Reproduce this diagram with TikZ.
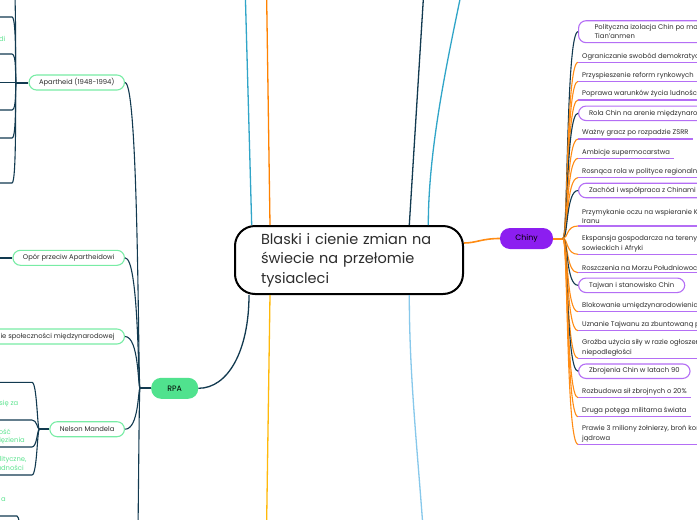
\documentclass[tikz,border=0pt]{standalone}
\usepackage{fontspec}
\setmainfont{Poppins}
\usepackage{tikz}
\usetikzlibrary{positioning,calc}
\definecolor{mmnavy}{RGB}{18,58,80}
\definecolor{mmorange}{RGB}{255,140,20}
\definecolor{chinyviolet}{RGB}{140,30,240}
\definecolor{lilac}{RGB}{180,110,245}
\definecolor{rpagreen}{RGB}{80,226,142}
\definecolor{mintborder}{RGB}{120,236,165}
\definecolor{minttext}{RGB}{95,228,145}
\definecolor{labelgray}{RGB}{45,45,45}
\definecolor{skyteal}{RGB}{48,165,200}
\definecolor{paleblue}{RGB}{135,200,235}
\definecolor{amber}{RGB}{255,185,10}
\definecolor{tangerine}{RGB}{255,130,0}
\newcommand\leaffont{\fontsize{6.8}{9.3}\selectfont}
\tikzset{
  rootbox/.style={draw=black, line width=2pt, rounded corners=20pt, fill=white, minimum width=228pt, minimum height=68pt, text width=176pt, align=left, font=\fontsize{14.5}{19.5}\selectfont, text=labelgray},
  topicpill/.style={rounded corners=10pt, minimum height=21pt, font=\fontsize{7.8}{9}\selectfont, text=black},
  rpachild/.style={draw=mintborder, line width=1.1pt, fill=white, rounded corners=7.5pt, minimum height=15pt, inner xsep=10pt, anchor=east, font=\leaffont, text=labelgray},
  chinybox/.style={draw=lilac, line width=1.1pt, fill=white, rounded corners=7.5pt, minimum height=14.5pt, inner xsep=10.5pt, inner ysep=3.7pt, anchor=west, align=left, font=\leaffont, text=labelgray},
  chinyleaf/.style={anchor=south west, align=left, inner xsep=4pt, inner ysep=2.2pt, font=\leaffont, text=labelgray, append after command={(\tikzlastnode.south west) edge[draw=lilac, line width=1.5pt] (\tikzlastnode.south east)}},
  navylink/.style={draw=mmnavy, line width=1.1pt},
  navystem/.style={draw=mmnavy, line width=2pt},
  orangelink/.style={draw=mmorange, line width=1.1pt},
  mintnote/.style={anchor=east, inner sep=0pt, font=\leaffont, text=minttext}
}
\begin{document}
\begin{tikzpicture}[x=1pt, y=-1pt]
  \useasboundingbox (0,0) rectangle (697,520);
  \clip (0,0) rectangle (697,520);
  \fill[white] (0,0) rectangle (697,520);

  \node[rootbox] (root) at (349,260) {Blaski i cienie zmian na\\świecie na przełomie\\tysiacleci};
  \coordinate (upteal) at (243.8,-60);
  \coordinate (uporange) at (265.8,-60);
  \coordinate (upnavy) at (427,-60);
  \coordinate (upsky) at (466,-30);
  \coordinate (downamber) at (265.5,600);
  \coordinate (downblue) at (427.5,600);
  \draw[draw=skyteal, line width=1.3pt] ([xshift=17.7pt]root.north west) -- (upteal);
  \draw[draw=tangerine, line width=1.3pt] ([xshift=36pt]root.north west) -- (uporange);
  \draw[navylink, line width=1.3pt] ([xshift=175.3pt]root.north west) -- (upnavy);
  \draw[draw=skyteal, line width=1.3pt] ([xshift=194.3pt]root.north west) .. controls +(0,-85) and +(-14,70) .. (upsky);
  \draw[draw=amber, line width=1.3pt] ([xshift=36pt]root.south west) -- (downamber);
  \draw[draw=paleblue, line width=1.3pt] ([xshift=175.3pt]root.south west) .. controls +(0,100) and +(-6,-120) .. (downblue);

  \node[topicpill, fill=chinyviolet, minimum width=53pt] (chiny) at (526.5,238.5) {Chiny};
  \draw[orangelink, line width=1.6pt] ([yshift=17pt]root.east) .. controls +(12,0) and +(-18,0) .. (chiny.west);
  \coordinate (chinyfan) at (563,238.5);
  \draw[orangelink, line width=2pt] (chiny.east) -- (chinyfan);

  \node[chinybox, inner xsep=16pt] (tiananmen) at (578,31.7) {Polityczna izolacja Chin po masakrze na placu\\Tian'anmen};
  \node[chinyleaf] (swobody) at (578,62.3) {Ograniczanie swobód demokratycznych};
  \node[chinyleaf] (reformy) at (578,81.3) {Przyspieszenie reform rynkowych};
  \node[chinyleaf] (warunki) at (578,100) {Poprawa warunków życia ludności};
  \node[chinybox] (arena) at (578,113.3) {Rola Chin na arenie międzynarodowej};
  \node[chinyleaf] (zsrr) at (578,139) {Ważny gracz po rozpadzie ZSRR};
  \node[chinyleaf] (mocarstwo) at (578,158.3) {Ambicje supermocarstwa};
  \node[chinyleaf] (region) at (578,177.7) {Rosnąca rola w polityce regionalnej};
  \node[chinybox] (zachod) at (578,190.5) {Zachód i współpraca z Chinami};
  \node[chinyleaf] (korea) at (578,226) {Przymykanie oczu na wspieranie Korei Płn. i\\Iranu};
  \node[chinyleaf] (ekspansja) at (578,254.3) {Ekspansja gospodarcza na tereny po-\\sowieckich i Afryki};
  \node[chinyleaf] (morze) at (578,272.7) {Roszczenia na Morzu Południowochińskim};
  \node[chinybox] (tajwan) at (578,285.3) {Tajwan i stanowisko Chin};
  \node[chinyleaf] (blokada) at (578,311.7) {Blokowanie umiędzynarodowienia problemu};
  \node[chinyleaf] (uznanie) at (578,330.7) {Uznanie Tajwanu za zbuntowaną prowincję};
  \node[chinyleaf] (grozba) at (578,358.3) {Groźba użycia siły w razie ogłoszenia\\niepodległości};
  \node[chinybox] (zbrojenia) at (578,371.2) {Zbrojenia Chin w latach 90};
  \node[chinyleaf] (rozbudowa) at (578,397.7) {Rozbudowa sił zbrojnych o 20\%};
  \node[chinyleaf] (potega) at (578,416.7) {Druga potęga militarna świata};
  \node[chinyleaf] (armia) at (578,444.3) {Prawie 3 miliony żołnierzy, broń konwencjonalna i\\jądrowa};

  \draw[navylink] (chinyfan) .. controls +(5,0) and +(-12,0) .. (tiananmen.west);
  \draw[orangelink] (chinyfan) .. controls +(5,0) and +(-12,0) .. (swobody.south west);
  \draw[orangelink] (chinyfan) .. controls +(5,0) and +(-12,0) .. (reformy.south west);
  \draw[orangelink] (chinyfan) .. controls +(5,0) and +(-12,0) .. (warunki.south west);
  \draw[navylink] (chinyfan) .. controls +(5,0) and +(-12,0) .. (arena.west);
  \draw[orangelink] (chinyfan) .. controls +(5,0) and +(-12,0) .. (zsrr.south west);
  \draw[orangelink] (chinyfan) .. controls +(5,0) and +(-12,0) .. (mocarstwo.south west);
  \draw[orangelink] (chinyfan) .. controls +(5,0) and +(-12,0) .. (region.south west);
  \draw[navylink] (chinyfan) .. controls +(5,0) and +(-12,0) .. (zachod.west);
  \draw[orangelink] (chinyfan) .. controls +(5,0) and +(-12,0) .. (korea.south west);
  \draw[orangelink] (chinyfan) .. controls +(5,0) and +(-12,0) .. (ekspansja.south west);
  \draw[orangelink] (chinyfan) .. controls +(5,0) and +(-12,0) .. (morze.south west);
  \draw[navylink] (chinyfan) .. controls +(5,0) and +(-12,0) .. (tajwan.west);
  \draw[orangelink] (chinyfan) .. controls +(5,0) and +(-12,0) .. (blokada.south west);
  \draw[orangelink] (chinyfan) .. controls +(5,0) and +(-12,0) .. (uznanie.south west);
  \draw[orangelink] (chinyfan) .. controls +(5,0) and +(-12,0) .. (grozba.south west);
  \draw[navylink] (chinyfan) .. controls +(5,0) and +(-12,0) .. (zbrojenia.west);
  \draw[orangelink] (chinyfan) .. controls +(5,0) and +(-12,0) .. (rozbudowa.south west);
  \draw[orangelink] (chinyfan) .. controls +(5,0) and +(-12,0) .. (potega.south west);
  \draw[orangelink] (chinyfan) .. controls +(5,0) and +(-12,0) .. (armia.south west);

  \node[topicpill, fill=rpagreen, minimum width=47pt] (rpa) at (174.7,388.3) {RPA};
  \draw[navylink, line width=1.3pt] ([xshift=15pt]root.south west) .. controls +(0,55) and +(30,0) .. (rpa.east);
  \coordinate (rpafan) at (140,388.3);
  \draw[navystem] (rpa.west) -- (rpafan);

  \node[rpachild] (apartheid) at (125,82.5) {Apartheid (1948-1994)};
  \node[rpachild] (opor) at (125,257.8) {Opór przeciw Apartheidowi};
  \node[rpachild] (swiat) at (125,336.5) {Potępienie społeczności międzynarodowej};
  \node[rpachild] (mandela) at (125,429.2) {Nelson Mandela};
  \coordinate (rpanext) at (125,820);
  \draw[navylink] (rpafan) .. controls +(-2,0) and +(14,0) .. (apartheid.east);
  \draw[navylink] (rpafan) .. controls +(-2,0) and +(14,0) .. (opor.east);
  \draw[navylink] (rpafan) .. controls +(-2,0) and +(14,0) .. (swiat.east);
  \draw[navylink] (rpafan) .. controls +(-2,0) and +(14,0) .. (mandela.east);
  \draw[navylink] (rpafan) .. controls +(-2,0) and +(14,0) .. (rpanext);

  \coordinate (apfan) at (16,82.5);
  \draw[navystem] (apartheid.west) -- (apfan);
  \coordinate (ap0) at (12,-30);
  \coordinate (ap1) at (12,17);
  \coordinate (ap2) at (12,54);
  \coordinate (ap3) at (12,82.5);
  \coordinate (ap4) at (12,110);
  \coordinate (ap5) at (12,138);
  \coordinate (ap6) at (12,183);
  \draw[navylink] (apfan) .. controls +(-1,0) and +(5,0) .. (ap0) -- ++(-20,0);
  \draw[navylink] (apfan) .. controls +(-1,0) and +(5,0) .. (ap1) -- ++(-20,0);
  \draw[navylink] (apfan) .. controls +(-1,0) and +(5,0) .. (ap2) -- ++(-20,0);
  \draw[navylink] (apfan) -- (ap3) -- ++(-20,0);
  \draw[navylink] (apfan) .. controls +(-1,0) and +(5,0) .. (ap4) -- ++(-20,0);
  \draw[navylink] (apfan) .. controls +(-1,0) and +(5,0) .. (ap5) -- ++(-20,0);
  \draw[navylink] (apfan) .. controls +(-1,0) and +(5,0) .. (ap6) -- ++(-20,0);
  \node[mintnote] (apnote) at (5.5,39) {di};

  \coordinate (oporout) at (-20,257.8);
  \draw[navystem] (opor.west) -- (oporout);

  \coordinate (mfan) at (39.3,429.2);
  \draw[navystem] (mandela.west) -- (mfan);
  \coordinate (m1) at (32,382.3);
  \coordinate (m2) at (32,420);
  \coordinate (m3) at (32,447);
  \coordinate (m4) at (32,475);
  \draw[navylink] (mfan) .. controls +(-2,0) and +(5,0) .. (m1) -- ++(-40,0);
  \draw[navylink] (mfan) .. controls +(-2,0) and +(5,0) .. (m2) -- ++(-40,0);
  \draw[navylink] (mfan) .. controls +(-2,0) and +(5,0) .. (m3) -- ++(-40,0);
  \draw[navylink] (mfan) .. controls +(-2,0) and +(5,0) .. (m4) -- ++(-40,0);
  \node[mintnote] (mnote1) at (18.5,404) {się za};
  \node[mintnote] (mnote2) at (11,431.7) {ość};
  \node[mintnote] (mnote3) at (25,441) {ięzienia};
  \node[mintnote] (mnote4) at (26.7,459.3) {lityczne,};
  \node[mintnote] (mnote5) at (24,468.3) {udności};

  \coordinate (lowfan) at (22,560);
  \coordinate (low1) at (17,516);
  \draw[navylink] (lowfan) .. controls +(-1,0) and +(4,0) .. (low1) -- ++(-30,0);
  \node[mintnote] (lownote) at (6,500) {a};
\end{tikzpicture}
\end{document}
